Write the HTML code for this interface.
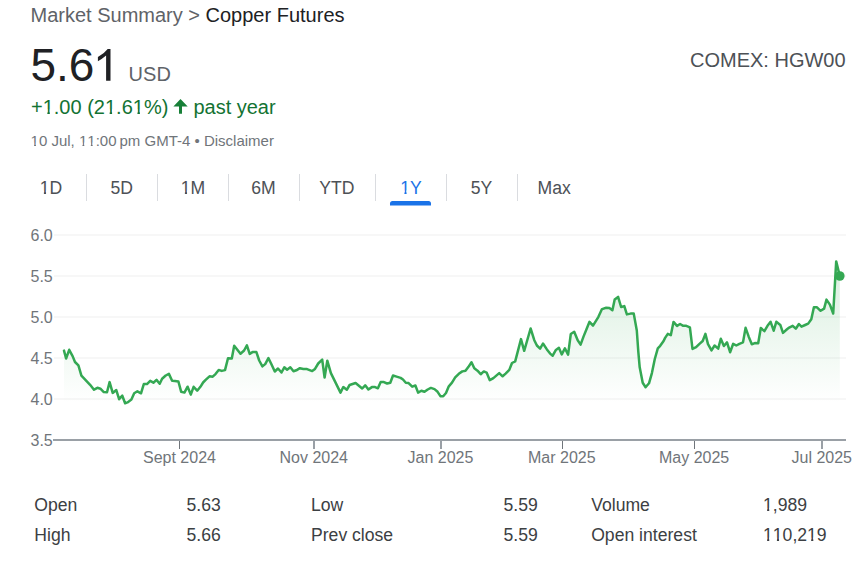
<!DOCTYPE html>
<html><head><meta charset="utf-8">
<style>
html,body{margin:0;padding:0;background:#fff;}
body{width:864px;height:565px;overflow:hidden;position:relative;font-family:"Liberation Sans",sans-serif;}
.t{position:absolute;white-space:nowrap;line-height:1;}
svg{position:absolute;left:0;top:0;}
.o{font-style:normal;display:inline-block;line-height:1;clip-path:polygon(0 0,100% 0,100% 62%,64% 62%,64% 100%,42% 100%,42% 62%,0 62%);}
</style></head><body>
<div class="t" style="left:30.5px;top:4.8px;font-size:20px;color:#5f6368">Market Summary &gt; <span style="color:#202124">Copper Futures</span></div>
<div class="t" style="left:30.4px;top:41.8px;font-size:46px;color:#202124">5.6</div>
<div class="t" style="left:128.6px;top:63.8px;font-size:20px;color:#5f6368">USD</div>
<div class="t" style="left:690px;top:49.8px;font-size:20px;color:#4d5156">COMEX: HGW00</div>
<div class="t" style="left:31px;top:96.9px;font-size:20px;color:#137333">+<i class="o">1</i>.00 (2<i class="o">1</i>.6<i class="o">1</i>%)</div>
<div class="t" style="left:193.4px;top:97.0px;font-size:20px;color:#137333">past year</div>
<div class="t" style="left:30.6px;top:133.1px;font-size:15px;color:#70757a"><i class="o">1</i>0 Jul, <i class="o">1</i><i class="o">1</i>:00&#8201;pm GMT-4 • Disclaimer</div>
<svg width="864" height="565" viewBox="0 0 864 565">
<defs>
<linearGradient id="g" gradientUnits="userSpaceOnUse" x1="0" y1="260" x2="0" y2="403">
<stop offset="0" stop-color="#34a853" stop-opacity="0.19"/>
<stop offset="1" stop-color="#34a853" stop-opacity="0"/>
</linearGradient>
</defs>
<path d="M110.5 49 L110.5 80.8 L106.1 80.8 L106.1 55.6 Q102.5 58.8 97.9 61.2 L97.9 57.1 Q104 53.8 107.7 49 Z" fill="#202124"/>
<!-- arrow -->
<path d="M180.5 99 L187.7 106.4 L182 106.4 L182 113.7 L179 113.7 L179 106.4 L173.4 106.4 Z" fill="#188038"/>
<!-- tab separators -->
<g fill="#dadce0">
<rect x="86" y="174" width="1" height="27"/>
<rect x="157" y="174" width="1" height="27"/>
<rect x="228" y="174" width="1" height="27"/>
<rect x="299" y="174" width="1" height="27"/>
<rect x="375" y="174" width="1" height="27"/>
<rect x="446" y="174" width="1" height="27"/>
<rect x="517" y="174" width="1" height="27"/>
</g>
<path d="M390 205.5 L390 203.5 Q390 201 392.5 201 L428.5 201 Q431 201 431 203.5 L431 205.5 Z" fill="#1a73e8"/>
<!-- grid -->
<g fill="#f7f7f7">
<rect x="54" y="234" width="792" height="2"/>
<rect x="54" y="275" width="792" height="2"/>
<rect x="54" y="316" width="792" height="2"/>
<rect x="54" y="357" width="792" height="2"/>
<rect x="54" y="398" width="792" height="2"/>
</g>
<path d="M64.0 350.6 L66.1 358.5 L69.2 349.8 L72.6 356.1 L75.0 362.0 L78.4 365.4 L81.4 375.6 L90.1 384.8 L94.0 389.7 L97.4 387.8 L100.4 388.7 L103.8 392.1 L107.0 392.3 L109.6 382.1 L112.7 392.9 L116.3 390.1 L119.1 399.2 L122.3 395.7 L125.1 403.2 L127.5 402.4 L131.4 399.6 L134.2 393.3 L137.4 391.3 L141.0 393.3 L143.8 384.1 L147.0 384.1 L150.2 380.9 L153.4 382.7 L156.5 379.9 L159.7 383.7 L162.1 378.7 L165.7 375.5 L168.9 373.9 L172.1 380.7 L174.9 380.9 L178.4 381.5 L181.2 391.8 L184.4 392.6 L187.6 386.7 L190.8 394.6 L193.6 386.8 L197.2 390.7 L200.4 386.8 L203.1 382.5 L205.9 379.7 L209.5 376.3 L212.7 376.7 L215.5 374.1 L218.7 370.0 L221.8 370.9 L225.0 370.1 L228.0 358.3 L231.8 358.5 L234.2 345.7 L240.5 353.7 L244.1 350.5 L246.9 345.4 L249.7 353.9 L252.5 352.1 L256.4 352.1 L259.2 360.5 L262.4 366.4 L265.2 364.1 L268.4 358.1 L271.2 363.7 L274.8 371.5 L278.0 368.5 L281.5 372.5 L284.3 367.3 L287.1 369.7 L290.3 367.3 L293.5 371.3 L296.3 370.3 L299.9 368.2 L303.4 368.9 L307.0 369.1 L312.2 371.1 L315.0 368.9 L318.2 363.5 L322.2 359.6 L324.6 377.5 L327.3 360.7 L330.9 373.1 L340.5 392.6 L343.3 387.0 L346.8 389.8 L349.6 385.0 L355.6 383.0 L362.2 388.5 L365.2 385.3 L368.4 389.5 L371.9 387.1 L375.1 387.1 L377.9 388.3 L380.7 381.9 L383.9 382.1 L387.1 383.5 L390.3 382.7 L393.0 375.5 L396.6 376.6 L400.6 377.9 L403.0 379.5 L405.8 382.7 L408.6 383.1 L412.2 386.7 L415.4 385.5 L418.1 392.6 L421.3 390.7 L424.5 391.8 L427.7 389.5 L430.9 387.9 L434.5 389.1 L437.6 391.8 L440.4 396.2 L443.2 396.2 L446.0 393.0 L448.8 386.3 L452.0 382.7 L455.2 377.4 L458.8 373.8 L462.3 371.4 L465.5 370.7 L468.3 367.1 L471.5 362.3 L474.3 368.3 L477.5 370.7 L480.7 374.2 L483.8 371.4 L486.6 372.6 L489.8 380.2 L493.4 378.1 L499.2 373.1 L502.6 376.3 L505.6 373.6 L509.3 369.9 L512.0 363.0 L515.2 361.4 L521.0 339.1 L524.2 350.8 L530.6 328.5 L534.3 340.2 L536.9 345.5 L540.1 348.7 L543.0 343.5 L546.9 349.4 L550.1 353.6 L552.7 355.7 L555.9 349.9 L558.9 347.8 L561.8 354.4 L564.9 348.3 L568.1 354.7 L570.8 334.0 L574.2 331.8 L577.7 340.3 L580.6 344.6 L583.5 336.6 L586.7 328.7 L589.5 321.8 L593.0 325.6 L598.3 317.1 L602.0 309.1 L606.2 307.8 L609.4 308.0 L612.4 310.2 L614.7 299.6 L618.1 296.9 L621.1 307.0 L624.3 306.1 L626.9 314.4 L630.6 313.6 L633.7 313.4 L636.8 330.5 L638.3 351.7 L639.7 367.3 L642.7 382.8 L645.6 387.2 L649.0 383.3 L651.9 373.1 L654.8 359.0 L657.8 348.3 L660.2 345.8 L663.6 341.0 L665.1 337.9 L667.8 333.9 L670.8 335.2 L673.5 321.9 L677.0 325.9 L680.1 324.0 L683.2 325.8 L686.3 325.8 L689.9 327.3 L692.5 348.9 L696.1 347.2 L699.2 344.1 L702.7 341.0 L705.4 333.9 L708.0 344.1 L711.5 350.4 L714.6 345.5 L718.2 348.6 L720.8 338.7 L723.9 346.0 L727.0 342.4 L730.1 352.2 L733.2 343.8 L736.3 345.5 L739.4 343.8 L743.0 342.4 L745.6 327.8 L748.7 336.7 L751.8 344.2 L754.9 343.1 L758.2 343.2 L760.8 328.0 L764.4 331.1 L767.5 325.8 L770.6 321.8 L773.7 330.7 L776.3 321.8 L780.3 324.9 L783.0 332.9 L787.0 329.3 L789.2 327.6 L792.7 325.8 L795.8 328.7 L798.9 324.0 L801.5 326.7 L805.1 325.0 L808.2 323.6 L811.3 319.2 L813.9 307.3 L817.0 307.3 L820.6 310.8 L824.1 308.6 L826.5 299.6 L829.9 304.6 L833.2 313.5 L836.2 261.4 L839.8 276.0 L839.8 440 L64.0 440 Z" fill="url(#g)"/>
<rect x="53" y="439" width="793" height="2" fill="#9aa0a6"/>
<g fill="#70757a">
<rect x="179" y="441" width="1" height="8"/>
<rect x="562" y="441" width="1" height="8"/>
<rect x="694" y="441" width="1" height="8"/>
</g>
<g fill="#9aa0a6">
<rect x="313" y="441" width="2" height="8"/>
<rect x="440" y="441" width="2" height="8"/>
<rect x="821" y="441" width="2" height="8"/>
</g>
<path d="M64.0 350.6 L66.1 358.5 L69.2 349.8 L72.6 356.1 L75.0 362.0 L78.4 365.4 L81.4 375.6 L90.1 384.8 L94.0 389.7 L97.4 387.8 L100.4 388.7 L103.8 392.1 L107.0 392.3 L109.6 382.1 L112.7 392.9 L116.3 390.1 L119.1 399.2 L122.3 395.7 L125.1 403.2 L127.5 402.4 L131.4 399.6 L134.2 393.3 L137.4 391.3 L141.0 393.3 L143.8 384.1 L147.0 384.1 L150.2 380.9 L153.4 382.7 L156.5 379.9 L159.7 383.7 L162.1 378.7 L165.7 375.5 L168.9 373.9 L172.1 380.7 L174.9 380.9 L178.4 381.5 L181.2 391.8 L184.4 392.6 L187.6 386.7 L190.8 394.6 L193.6 386.8 L197.2 390.7 L200.4 386.8 L203.1 382.5 L205.9 379.7 L209.5 376.3 L212.7 376.7 L215.5 374.1 L218.7 370.0 L221.8 370.9 L225.0 370.1 L228.0 358.3 L231.8 358.5 L234.2 345.7 L240.5 353.7 L244.1 350.5 L246.9 345.4 L249.7 353.9 L252.5 352.1 L256.4 352.1 L259.2 360.5 L262.4 366.4 L265.2 364.1 L268.4 358.1 L271.2 363.7 L274.8 371.5 L278.0 368.5 L281.5 372.5 L284.3 367.3 L287.1 369.7 L290.3 367.3 L293.5 371.3 L296.3 370.3 L299.9 368.2 L303.4 368.9 L307.0 369.1 L312.2 371.1 L315.0 368.9 L318.2 363.5 L322.2 359.6 L324.6 377.5 L327.3 360.7 L330.9 373.1 L340.5 392.6 L343.3 387.0 L346.8 389.8 L349.6 385.0 L355.6 383.0 L362.2 388.5 L365.2 385.3 L368.4 389.5 L371.9 387.1 L375.1 387.1 L377.9 388.3 L380.7 381.9 L383.9 382.1 L387.1 383.5 L390.3 382.7 L393.0 375.5 L396.6 376.6 L400.6 377.9 L403.0 379.5 L405.8 382.7 L408.6 383.1 L412.2 386.7 L415.4 385.5 L418.1 392.6 L421.3 390.7 L424.5 391.8 L427.7 389.5 L430.9 387.9 L434.5 389.1 L437.6 391.8 L440.4 396.2 L443.2 396.2 L446.0 393.0 L448.8 386.3 L452.0 382.7 L455.2 377.4 L458.8 373.8 L462.3 371.4 L465.5 370.7 L468.3 367.1 L471.5 362.3 L474.3 368.3 L477.5 370.7 L480.7 374.2 L483.8 371.4 L486.6 372.6 L489.8 380.2 L493.4 378.1 L499.2 373.1 L502.6 376.3 L505.6 373.6 L509.3 369.9 L512.0 363.0 L515.2 361.4 L521.0 339.1 L524.2 350.8 L530.6 328.5 L534.3 340.2 L536.9 345.5 L540.1 348.7 L543.0 343.5 L546.9 349.4 L550.1 353.6 L552.7 355.7 L555.9 349.9 L558.9 347.8 L561.8 354.4 L564.9 348.3 L568.1 354.7 L570.8 334.0 L574.2 331.8 L577.7 340.3 L580.6 344.6 L583.5 336.6 L586.7 328.7 L589.5 321.8 L593.0 325.6 L598.3 317.1 L602.0 309.1 L606.2 307.8 L609.4 308.0 L612.4 310.2 L614.7 299.6 L618.1 296.9 L621.1 307.0 L624.3 306.1 L626.9 314.4 L630.6 313.6 L633.7 313.4 L636.8 330.5 L638.3 351.7 L639.7 367.3 L642.7 382.8 L645.6 387.2 L649.0 383.3 L651.9 373.1 L654.8 359.0 L657.8 348.3 L660.2 345.8 L663.6 341.0 L665.1 337.9 L667.8 333.9 L670.8 335.2 L673.5 321.9 L677.0 325.9 L680.1 324.0 L683.2 325.8 L686.3 325.8 L689.9 327.3 L692.5 348.9 L696.1 347.2 L699.2 344.1 L702.7 341.0 L705.4 333.9 L708.0 344.1 L711.5 350.4 L714.6 345.5 L718.2 348.6 L720.8 338.7 L723.9 346.0 L727.0 342.4 L730.1 352.2 L733.2 343.8 L736.3 345.5 L739.4 343.8 L743.0 342.4 L745.6 327.8 L748.7 336.7 L751.8 344.2 L754.9 343.1 L758.2 343.2 L760.8 328.0 L764.4 331.1 L767.5 325.8 L770.6 321.8 L773.7 330.7 L776.3 321.8 L780.3 324.9 L783.0 332.9 L787.0 329.3 L789.2 327.6 L792.7 325.8 L795.8 328.7 L798.9 324.0 L801.5 326.7 L805.1 325.0 L808.2 323.6 L811.3 319.2 L813.9 307.3 L817.0 307.3 L820.6 310.8 L824.1 308.6 L826.5 299.6 L829.9 304.6 L833.2 313.5 L836.2 261.4 L839.8 276.0" fill="none" stroke="#34a853" stroke-width="2.5" stroke-linejoin="round" stroke-linecap="round"/>
<circle cx="839.8" cy="276" r="4.8" fill="#34a853"/>
</svg>
<div class="t" style="left:1.05px;width:100px;text-align:center;top:179.6px;font-size:17.6px;color:#4d5156"><i class="o">1</i>D</div>
<div class="t" style="left:71.70px;width:100px;text-align:center;top:179.6px;font-size:17.6px;color:#4d5156">5D</div>
<div class="t" style="left:143.00px;width:100px;text-align:center;top:179.6px;font-size:17.6px;color:#4d5156"><i class="o">1</i>M</div>
<div class="t" style="left:213.55px;width:100px;text-align:center;top:179.6px;font-size:17.6px;color:#4d5156">6M</div>
<div class="t" style="left:286.95px;width:100px;text-align:center;top:179.6px;font-size:17.6px;color:#4d5156">YTD</div>
<div class="t" style="left:361.10px;width:100px;text-align:center;top:179.6px;font-size:17.6px;color:#1a73e8"><i class="o">1</i>Y</div>
<div class="t" style="left:431.50px;width:100px;text-align:center;top:179.6px;font-size:17.6px;color:#4d5156">5Y</div>
<div class="t" style="left:504.20px;width:100px;text-align:center;top:179.6px;font-size:17.6px;color:#4d5156">Max</div>
<div class="t" style="left:30.5px;top:227.8px;font-size:16px;color:#70757a">6.0</div>
<div class="t" style="left:30.5px;top:268.8px;font-size:16px;color:#70757a">5.5</div>
<div class="t" style="left:30.5px;top:309.8px;font-size:16px;color:#70757a">5.0</div>
<div class="t" style="left:30.5px;top:350.8px;font-size:16px;color:#70757a">4.5</div>
<div class="t" style="left:30.5px;top:391.8px;font-size:16px;color:#70757a">4.0</div>
<div class="t" style="left:30.5px;top:432.8px;font-size:16px;color:#70757a">3.5</div>
<div class="t" style="left:143px;top:450px;font-size:16px;color:#70757a">Sept 2024</div>
<div class="t" style="left:279.5px;top:450px;font-size:16px;color:#70757a">Nov 2024</div>
<div class="t" style="left:407.5px;top:450px;font-size:16px;color:#70757a">Jan 2025</div>
<div class="t" style="left:528px;top:450px;font-size:16px;color:#70757a">Mar 2025</div>
<div class="t" style="left:659px;top:450px;font-size:16px;color:#70757a">May 2025</div>
<div class="t" style="left:791.5px;top:450px;font-size:16px;color:#70757a">Jul 2025</div>
<div class="t" style="left:34.3px;top:496.9px;font-size:17.6px;color:#3c4043">Open</div>
<div class="t" style="left:34.3px;top:526.6px;font-size:17.6px;color:#3c4043">High</div>
<div class="t" style="left:186.5px;top:496.9px;font-size:17.6px;color:#3c4043">5.63</div>
<div class="t" style="left:186.5px;top:526.6px;font-size:17.6px;color:#3c4043">5.66</div>
<div class="t" style="left:311px;top:496.9px;font-size:17.6px;color:#3c4043">Low</div>
<div class="t" style="left:311px;top:526.6px;font-size:17.6px;color:#3c4043">Prev close</div>
<div class="t" style="left:503.5px;top:496.9px;font-size:17.6px;color:#3c4043">5.59</div>
<div class="t" style="left:503.5px;top:526.6px;font-size:17.6px;color:#3c4043">5.59</div>
<div class="t" style="left:591.2px;top:496.9px;font-size:17.6px;color:#3c4043">Volume</div>
<div class="t" style="left:591.2px;top:526.6px;font-size:17.6px;color:#3c4043">Open interest</div>
<div class="t" style="left:763px;top:496.9px;font-size:17.6px;color:#3c4043"><i class="o">1</i>,989</div>
<div class="t" style="left:763px;top:526.6px;font-size:17.6px;color:#3c4043"><i class="o">1</i><i class="o">1</i>0,2<i class="o">1</i>9</div>
</body></html>
